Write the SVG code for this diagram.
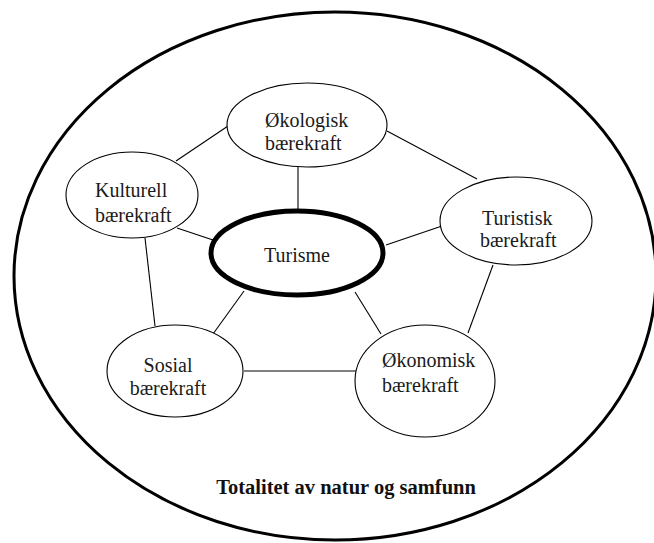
<svg xmlns="http://www.w3.org/2000/svg" width="654" height="543" viewBox="0 0 654 543">
  <style>
    .node { fill: #ffffff; stroke: #000000; stroke-width: 1.1; }
    .core { fill: #ffffff; stroke: #000000; stroke-width: 5; }
    .frame { fill: none; stroke: #000000; stroke-width: 3; }
    .edge { stroke: #000000; stroke-width: 1.1; fill: none; }
    .lbl { font-family: "Liberation Serif", "Times New Roman", serif; font-size: 20px; fill: #1a1a1a; }
    .title { font-family: "Liberation Serif", "Times New Roman", serif; font-size: 20.5px; font-weight: bold; fill: #111111; }
  </style>
  <rect width="654" height="543" fill="#ffffff"/>

  <!-- outer boundary -->
  <g id="totalitet">
    <ellipse class="frame" cx="335" cy="276" rx="321" ry="264"/>
    <text class="title" x="346" y="494" text-anchor="middle">Totalitet av natur og samfunn</text>
  </g>

  <!-- connectors -->
  <g id="connectors">
    <line class="edge" x1="176" y1="161" x2="228" y2="126"/>
    <line class="edge" x1="298" y1="167" x2="298" y2="210"/>
    <line class="edge" x1="387" y1="131" x2="477" y2="179"/>
    <line class="edge" x1="177" y1="228" x2="213" y2="240"/>
    <line class="edge" x1="145" y1="238" x2="155" y2="326"/>
    <line class="edge" x1="386" y1="245" x2="442" y2="226"/>
    <line class="edge" x1="244" y1="291" x2="213" y2="334"/>
    <line class="edge" x1="355" y1="292" x2="381" y2="334"/>
    <line class="edge" x1="493" y1="265" x2="468" y2="333"/>
    <line class="edge" x1="244" y1="371" x2="356" y2="371"/>
  </g>

  <g id="okologisk">
    <ellipse class="node" cx="307" cy="125" rx="80" ry="42"/>
    <text class="lbl" x="265" y="127">Økologisk</text>
    <text class="lbl" x="265" y="150">bærekraft</text>
  </g>

  <g id="kulturell">
    <ellipse class="node" cx="132" cy="195" rx="66" ry="43"/>
    <text class="lbl" x="95" y="197">Kulturell</text>
    <text class="lbl" x="95" y="222">bærekraft</text>
  </g>

  <g id="turisme">
    <ellipse class="core" cx="297" cy="253" rx="86" ry="42"/>
    <text class="lbl" x="297" y="262" text-anchor="middle">Turisme</text>
  </g>

  <g id="turistisk">
    <ellipse class="node" cx="516" cy="221" rx="76" ry="44"/>
    <text class="lbl" x="482" y="225">Turistisk</text>
    <text class="lbl" x="480" y="247">bærekraft</text>
  </g>

  <g id="sosial">
    <ellipse class="node" cx="175" cy="371" rx="68" ry="46"/>
    <text class="lbl" x="168" y="372" text-anchor="middle">Sosial</text>
    <text class="lbl" x="168" y="395" text-anchor="middle">bærekraft</text>
  </g>

  <g id="okonomisk">
    <ellipse class="node" cx="425" cy="381" rx="70" ry="56"/>
    <text class="lbl" x="382" y="367">Økonomisk</text>
    <text class="lbl" x="382" y="392">bærekraft</text>
  </g>
</svg>
